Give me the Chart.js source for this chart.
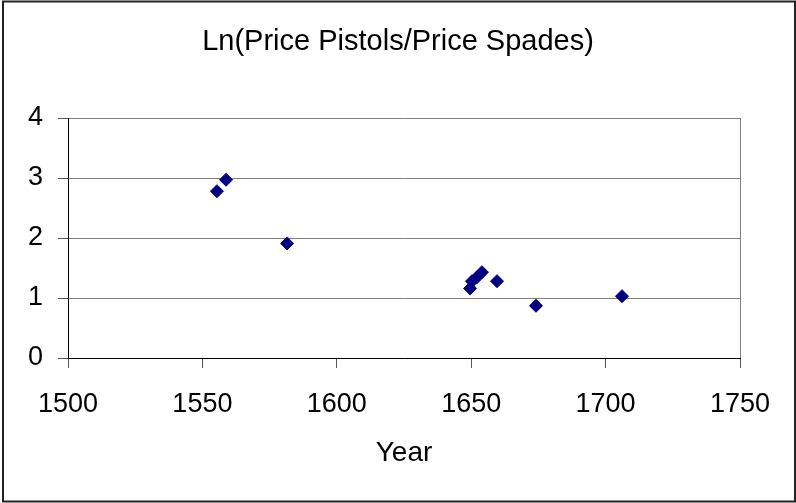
<!DOCTYPE html>
<html>
<head>
<meta charset="utf-8">
<script src="https://cdn.jsdelivr.net/npm/chart.js@4"></script>
<style>
  body { margin: 0; background: #fff; }
  canvas { display: block; }
</style>
</head>
<body>
<canvas id="chart" width="796" height="503"></canvas>
<script>
// values
const years = [1555.4, 1558.8, 1581.5, 1649.6, 1650.3, 1652, 1654, 1659.6, 1674.1, 1706.1];
const lnRatio = [2.78, 2.97, 1.91, 1.16, 1.28, 1.34, 1.43, 1.28, 0.87, 1.03];
const xTicks = [1500, 1550, 1600, 1650, 1700, 1750];
const yTicks = [0, 1, 2, 3, 4];

const font = "'Liberation Sans', Arial, sans-serif";

// white page with the dark outer frame, and the grey right edge of the plot
const framePlugin = {
  id: "frame",
  beforeDraw(chart) {
    const c = chart.ctx;
    c.save();
    c.fillStyle = "#fff";
    c.fillRect(0, 0, chart.width, chart.height);
    c.strokeStyle = "#222";
    c.lineWidth = 2;
    c.strokeRect(3, 1.5, 792, 500);
    c.restore();
  },
  afterDraw(chart) {
    const a = chart.chartArea;
    const c = chart.ctx;
    c.save();
    c.strokeStyle = "#808080";
    c.lineWidth = 1;
    c.beginPath();
    c.moveTo(Math.round(a.right) + 0.5, a.top);
    c.lineTo(Math.round(a.right) + 0.5, a.bottom);
    c.stroke();
    c.restore();
  },
};

const points = years.map((y, i) => ({ x: y, y: lnRatio[i] }));

new Chart(document.getElementById("chart"), {
  type: "scatter",
  data: {
    datasets: [
      {
        data: points,
        pointStyle: "rectRot",
        pointRadius: 6.5,
        pointHoverRadius: 6.5,
        backgroundColor: "#000080",
        borderColor: "#000080",
        borderWidth: 1,
      },
    ],
  },
  options: {
    responsive: false,
    animation: false,
    devicePixelRatio: 1,
    layout: { padding: 0 },
    plugins: {
      legend: { display: false },
      tooltip: { enabled: false },
      title: {
        display: true,
        text: "Ln(Price Pistols/Price Spades)",
        color: "#000",
        font: { family: font, size: 29, weight: "normal", lineHeight: 1.2 },
        padding: { top: 24.6, bottom: 58.6 },
      },
    },
    scales: {
      x: {
        type: "linear",
        min: xTicks[0],
        max: xTicks[xTicks.length - 1],
        afterBuildTicks(scale) {
          scale.ticks = xTicks.map((v) => ({ value: v }));
        },
        afterFit(scale) {
          scale.height = 145;
        },
        grid: {
          drawOnChartArea: false,
          drawTicks: true,
          tickLength: 10,
          tickColor: "#555",
        },
        border: { color: "#000", width: 1 },
        ticks: {
          color: "#000",
          padding: 20.8,
          maxRotation: 0,
          font: { family: font, size: 27 },
          callback: (v) => String(v),
        },
        title: {
          display: true,
          text: "Year",
          color: "#000",
          font: { family: font, size: 28, lineHeight: 1.2 },
          padding: { top: 0, bottom: 33.2 },
        },
      },
      y: {
        min: yTicks[0],
        max: yTicks[yTicks.length - 1],
        afterBuildTicks(scale) {
          scale.ticks = yTicks.map((v) => ({ value: v }));
        },
        afterFit(scale) {
          scale.width = 68;
        },
        grid: {
          color: "#808080",
          tickColor: "#555",
          tickLength: 10,
        },
        border: { color: "#000", width: 1 },
        ticks: {
          color: "#000",
          padding: 15,
          font: { family: font, size: 27 },
        },
      },
      // empty right-hand axis, only keeps the blank margin on the right
      yRight: {
        position: "right",
        min: yTicks[0],
        max: yTicks[yTicks.length - 1],
        afterFit(scale) {
          scale.width = 56;
        },
        grid: { display: false },
        border: { display: false },
        ticks: { display: false },
      },
    },
  },
  plugins: [framePlugin],
});
</script>
</body>
</html>
